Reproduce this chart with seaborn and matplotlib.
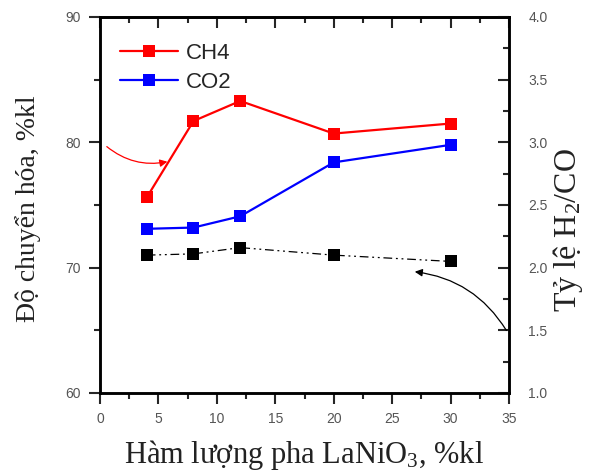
import matplotlib
matplotlib.use("Agg")
import matplotlib.pyplot as plt
import seaborn as sns
import numpy as np
import pandas as pd
from matplotlib.ticker import MultipleLocator, FormatStrFormatter

# ---- data ----
x_content = [4, 8, 12, 20, 30]
ch4_conv = [75.6, 81.7, 83.3, 80.7, 81.5]
co2_conv = [73.1, 73.2, 74.1, 78.4, 79.8]
h2_co_ratio = [2.10, 2.11, 2.16, 2.10, 2.05]

series_labels = ["CH4", "CO2"]
x_label = "Hàm lượng pha LaNiO$_3$, %kl"
y_label_left = "Độ chuyển hóa, %kl"
y_label_right = "Tỷ lệ H$_2$/CO"

sns.set_style("ticks")
plt.rcParams['font.family'] = ['Liberation Sans', 'DejaVu Sans']
plt.rcParams['mathtext.fontset'] = 'custom'
plt.rcParams['mathtext.rm'] = 'Liberation Serif'
plt.rcParams['mathtext.it'] = 'Liberation Serif:italic'

fig = plt.figure(figsize=(5.92, 4.72), dpi=100)
ax = fig.add_axes([100/592, 1-393/472, 409/592, 376/472])
ax2 = ax.twinx()

df = pd.DataFrame({"x": x_content, "ch4": ch4_conv, "co2": co2_conv, "r": h2_co_ratio})

sns.lineplot(data=df, x="x", y="ch4", ax=ax, color="#ff0000", marker="s",
             markersize=9, markeredgewidth=0, linewidth=1.6, label=series_labels[0])
sns.lineplot(data=df, x="x", y="co2", ax=ax, color="#0000ff", marker="s",
             markersize=9, markeredgewidth=0, linewidth=1.6, label=series_labels[1])
sns.lineplot(data=df, x="x", y="r", ax=ax2, color="black", marker="s",
             markersize=9, markeredgewidth=0, linewidth=0.9,
             linestyle=(0, (7, 3, 1.5, 3, 1.5, 3)), legend=False)

ax.set_xlim(0, 35)
ax.set_ylim(60, 90)
ax2.set_ylim(1.0, 4.0)

ax.xaxis.set_major_locator(MultipleLocator(5))
ax.xaxis.set_minor_locator(MultipleLocator(2.5))
ax.yaxis.set_major_locator(MultipleLocator(10))
ax.yaxis.set_minor_locator(MultipleLocator(5))
ax2.yaxis.set_major_locator(MultipleLocator(0.5))
ax2.yaxis.set_minor_locator(MultipleLocator(0.25))
ax2.yaxis.set_major_formatter(FormatStrFormatter('%.1f'))

tick_color = "#555555"
ax.tick_params(axis='x', which='both', bottom=True, top=False, direction='out',
               labelsize=10, labelcolor=tick_color, width=1.5, pad=6)
ax.tick_params(axis='y', which='both', left=True, right=False, direction='out',
               labelsize=10, labelcolor=tick_color, width=1.5, pad=6)
ax.tick_params(which='major', length=8)
ax.tick_params(which='minor', length=4)
ax2.tick_params(axis='y', which='both', direction='in', labelsize=10,
                labelcolor=tick_color, width=1.5, pad=14)
ax2.tick_params(which='major', length=8)
ax2.tick_params(which='minor', length=4)
# top ticks inward via secondary axis
secx = ax.secondary_xaxis('top')
secx.xaxis.set_major_locator(MultipleLocator(5))
secx.xaxis.set_minor_locator(MultipleLocator(2.5))
secx.tick_params(which='both', direction='in', labeltop=False, width=1.5)
secx.tick_params(which='major', length=8)
secx.tick_params(which='minor', length=4)

for a in (ax, ax2):
    for s in a.spines.values():
        s.set_linewidth(1.8)
        s.set_color("black")
secx.spines['top'].set_linewidth(1.8)

serif = ['Liberation Serif', 'DejaVu Serif']
ax.set_xlabel(x_label, fontsize=22, family=serif, color="#222222")
ax.set_ylabel(y_label_left, fontsize=20, family=serif, color="#222222")
ax2.set_ylabel(y_label_right, fontsize=23, family=serif, color="#222222")
ax.xaxis.set_label_coords(0.5, -(455 - 393) / 376)
ax.xaxis.label.set_va('center')
ax.yaxis.set_label_coords(-(100 - 28) / 409, (393 - 209) / 376)
ax.yaxis.label.set_va('center')
ax2.yaxis.set_label_coords(1 + (568 - 509) / 409, (393 - 230) / 376)
ax2.yaxis.label.set_va('center')

leg = ax.legend(loc='upper left', frameon=False, fontsize=16, handlelength=2.6,
                handletextpad=0.35, labelspacing=0.38, borderaxespad=0.0,
                bbox_to_anchor=(0.027, 0.955))

# annotations (curved arrows)
ax.annotate("", xy=(6.0, 78.5), xytext=(0.4, 79.8),
            arrowprops=dict(arrowstyle="-|>", color="#ff0000", lw=0.9,
                            connectionstyle="arc3,rad=0.25", mutation_scale=11))
ax2.annotate("", xy=(26.7, 1.97), xytext=(34.9, 1.48),
             arrowprops=dict(arrowstyle="-|>", color="black", lw=0.9,
                             connectionstyle="arc3,rad=0.25", mutation_scale=11))

fig.savefig("out.png", dpi=100)
